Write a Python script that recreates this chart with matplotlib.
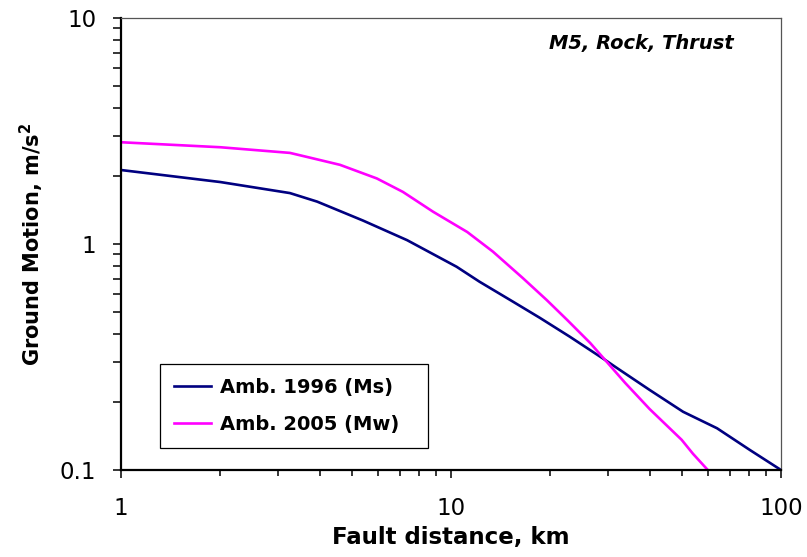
import matplotlib
matplotlib.use("Agg")
import matplotlib.pyplot as plt
from matplotlib.ticker import FixedLocator, FuncFormatter, LogLocator, NullFormatter

# Fault distance (km) and ground motion (m/s^2) for each model
dist_1996 = [1, 2, 3.25, 3.93, 5.41, 7.36, 10.4, 12.2, 15.4, 18.6, 22.9, 29.3,
             31.8, 40, 50.5, 64, 80.5, 100]
gm_1996 = [2.125, 1.88, 1.68, 1.54, 1.27, 1.04, 0.793, 0.681, 0.556, 0.471, 0.389,
           0.307, 0.283, 0.226, 0.181, 0.153, 0.1226, 0.1]

dist_2005 = [1, 2, 3.25, 3.74, 4.61, 5.96, 7.15, 8.82, 11.2, 13.4, 16.5, 19.5,
             22.5, 26.4, 29.3, 33.7, 40, 50, 54.1, 60]
gm_2005 = [2.82, 2.68, 2.53, 2.41, 2.24, 1.95, 1.70, 1.39, 1.13, 0.925, 0.707,
           0.565, 0.461, 0.365, 0.307, 0.243, 0.186, 0.136, 0.118, 0.1]

labels = ["Amb. 1996 (Ms)", "Amb. 2005 (Mw)"]
x_ticks = [1, 10, 100]
y_ticks = [0.1, 1, 10]

plt.rcParams["font.family"] = ["DejaVu Sans"]

fig = plt.figure(figsize=(8.07, 5.57), dpi=100)
ax = fig.add_axes([121 / 807, 1 - 470 / 557, 660 / 807, 452 / 557])

ax.plot(dist_1996, gm_1996, color="#000080", lw=1.9, label=labels[0])
ax.plot(dist_2005, gm_2005, color="#FF00FF", lw=1.9, label=labels[1])

ax.set_xscale("log")
ax.set_yscale("log")
ax.set_xlim(1, 100)
ax.set_ylim(0.1, 10)

fmt = FuncFormatter(lambda v, p: f"{v:g}")
ax.xaxis.set_major_locator(FixedLocator(x_ticks))
ax.yaxis.set_major_locator(FixedLocator(y_ticks))
ax.xaxis.set_major_formatter(fmt)
ax.yaxis.set_major_formatter(fmt)
ax.xaxis.set_minor_locator(LogLocator(base=10, subs=range(2, 10)))
ax.yaxis.set_minor_locator(LogLocator(base=10, subs=range(2, 10)))
ax.xaxis.set_minor_formatter(NullFormatter())
ax.yaxis.set_minor_formatter(NullFormatter())

ax.tick_params(axis="both", which="both", direction="out", width=1.1,
               color="black", labelsize=16.5)
ax.tick_params(axis="y", which="both", length=5.8, pad=12)
ax.tick_params(axis="x", which="major", length=5.5, pad=14)
ax.tick_params(axis="x", which="minor", length=4.3)

for side in ("left", "bottom"):
    ax.spines[side].set_linewidth(1.6)
    ax.spines[side].set_color("black")
for side in ("top", "right"):
    ax.spines[side].set_linewidth(0.9)
    ax.spines[side].set_color("#555555")

ax.set_xlabel("Fault distance, km", fontsize=16.5, fontweight="bold", labelpad=4)
ax.set_ylabel("Ground Motion, m/s$^\\mathbf{2}$", fontsize=15, fontweight="bold",
              labelpad=10)

ax.text(0.789, 0.931, "M5, Rock, Thrust", transform=ax.transAxes, ha="center",
        va="baseline", fontsize=14, fontweight="bold", fontstyle="italic")

leg = ax.legend(loc="lower left", bbox_to_anchor=(0.059, 0.0487, 0.406, 0.186),
                mode="expand", prop={"weight": "bold", "size": 14},
                frameon=True, fancybox=False, shadow=False, borderpad=0.72,
                labelspacing=0.95, handlelength=1.9, handletextpad=0.45,
                borderaxespad=0)
leg.get_frame().set_edgecolor("black")
leg.get_frame().set_linewidth(0.9)
leg.get_frame().set_alpha(1)

fig.savefig("out.png", dpi=100)
